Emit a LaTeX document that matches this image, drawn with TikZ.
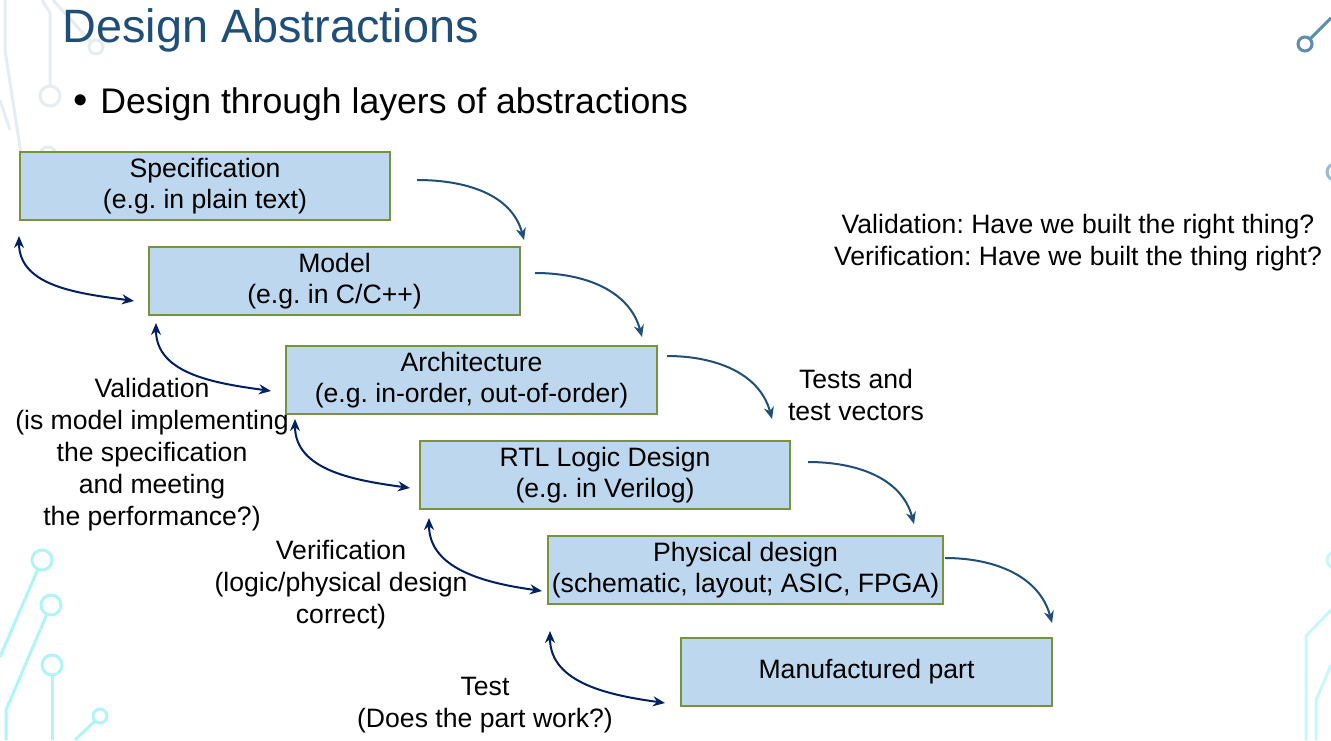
\documentclass[tikz,border=0pt]{standalone}
\usepackage{fontspec}
\setmainfont{Liberation Sans}
\usetikzlibrary{calc,positioning,arrows.meta}
\frenchspacing
\definecolor{dabg}   {HTML}{FFFFFF}
\definecolor{datitle}{HTML}{1F4E79}
\definecolor{dafill} {HTML}{BDD7EE}
\definecolor{daedge} {HTML}{77933C}
\definecolor{daflow} {HTML}{1F4E79}
\definecolor{daloop} {HTML}{002060}
\definecolor{dagrid} {HTML}{E6EDF2}
\definecolor{dacyan} {HTML}{B0F4FA}
\definecolor{dasteel}{HTML}{5B8DB0}

\begin{document}
\begin{tikzpicture}[x=0.5pt, y=0.5pt,
    every node/.style={font=\fontsize{13.3}{15.5}\selectfont},
    layer/.style={draw=daedge, fill=dafill, line width=1pt, minimum width=185pt,
                  minimum height=34pt, align=center, inner sep=0pt},
    flow/.style={daflow, line width=1pt, -{Stealth[length=6pt,width=5pt]}},
    check/.style={daloop, line width=1pt,
                  {Stealth[length=6pt,width=5pt]}-{Stealth[length=6pt,width=5pt]}},
    note/.style={align=center, inner sep=0pt, font=\fontsize{13.3}{16}\selectfont},
    trace/.style={line width=1.5pt}]
          \fill[dabg] (0,0) rectangle (1331,740);
          \useasboundingbox (0,0) rectangle (1331,740);
          \draw[dagrid, trace] (42,740) -- (50,727) -- (50,654);
          \draw[dagrid, trace] (50,644) circle (10);
          \draw[dagrid, trace] (53,740) -- (91,698);
          \draw[dagrid, trace] (96,693) circle (7);
          \draw[dagrid, trace] (5,740) -- (5,690) -- (22,580);
          \draw[dagrid, trace] (0,640) -- (10,610);
          \draw[dagrid, trace] (48,585) circle (8);
          \draw[dacyan, trace] (42,180) circle (10);
          \draw[dacyan, trace] (38,171) -- (0,83);
          \draw[dacyan, trace] (51,135) circle (10);
          \draw[dacyan, trace] (47,126) -- (6,30) -- (6,0);
          \draw[dacyan, trace] (52,75) circle (10);
          \draw[dacyan, trace] (52,65) -- (52,0);
          \draw[dacyan, trace] (100,24) circle (7);
          \draw[dacyan, trace] (95,19) -- (75,0);
          \draw[dasteel, trace] (1305,696) circle (7);
          \draw[dasteel, trace] (1310,701) -- (1331,722);
          \draw[dasteel!60, trace] (1335,568) circle (8);
          \draw[dacyan!70, trace] (1335,180) circle (8);
          \draw[dacyan!70, trace] (1331,130) -- (1306,104) -- (1306,0);
          \draw[dacyan!70, trace] (1331,75) -- (1316,40) -- (1316,0);

          \node[anchor=base west, inner sep=0pt, datitle, font=\fontsize{23.4}{27}\selectfont]
            (title) at (62,697) {Design Abstractions};
          \node[anchor=base west, inner sep=0pt, font=\fontsize{17.8}{21}\selectfont]
            (bullet) at (100,626) {Design through layers of abstractions};
          \node[inner sep=0pt, font=\fontsize{14}{16}\selectfont]
            (dot) at (81,639) {$\bullet$};

          \node[layer] (spec) at (205,554) {Specification\\(e.g. in plain text)};
          \node[layer, minimum width=185.5pt] (model) at (334.5,459) {Model\\(e.g. in C/C++)};
          \node[layer, minimum width=185.5pt] (arch) at (471.5,360)
            {Architecture\\(e.g. in-order, out-of-order)};
          \node[layer] (rtl) at (605,265) {RTL Logic Design\\(e.g. in Verilog)};
          \node[layer, minimum width=197.5pt] (phys) at (745.5,170)
            {Physical design\\(schematic, layout; ASIC, FPGA)};
          \node[layer, minimum width=185.5pt] (manuf) at (866.5,68) {Manufactured part};

          \draw[flow] ([shift={(26,6)}]spec.east) to[out=0, in=105] ([shift={(3,6)}]model.north east);
          \draw[flow] ([shift={(14,8)}]model.east) to[out=0, in=105] ([shift={(-16,8)}]arch.north east);
          \draw[flow] ([shift={(9,24)}]arch.east) to[out=0, in=105] ([shift={(-19,21)}]rtl.north east);
          \draw[flow] ([shift={(17,13)}]rtl.east) to[out=0, in=105] ([shift={(-30,11)}]phys.north east);
          \draw[flow] ([shift={(1,12)}]phys.east) to[out=0, in=105] ([shift={(-1,14)}]manuf.north east);

          \draw[check] ([shift={(0,-15)}]spec.south west) to[out=-90, in=172] ([shift={(-14,15)}]model.south west);
          \draw[check] ([shift={(8,-7)}]model.south west) to[out=-90, in=172] ([shift={(-14,24)}]arch.south west);
          \draw[check] ([shift={(10,-4)}]arch.south west) to[out=-90, in=172] ([shift={(-9,22)}]rtl.south west);
          \draw[check] ([shift={(10,-8)}]rtl.south west) to[out=-90, in=172] ([shift={(-5,14)}]phys.south west);
          \draw[check] ([shift={(3,-26)}]phys.south west) to[out=-90, in=172] ([shift={(-15,4)}]manuf.south west);

          \node[note] (vvnote) at (1078,497)
            {Validation: Have we built the right thing?\\Verification: Have we built the thing right?};
          \node[note] (tests) at (856,345) {Tests and\\test vectors};
          \node[note] (valid) at (152,285)
            {Validation\\(is model implementing\\the specification\\and meeting\\the performance?)};
          \node[note] (verif) at (341,155) {Verification\\(logic/physical design\\correct)};
          \node[note] (test) at (485,35) {Test\\(Does the part work?)};
        \end{tikzpicture}
\end{document}
